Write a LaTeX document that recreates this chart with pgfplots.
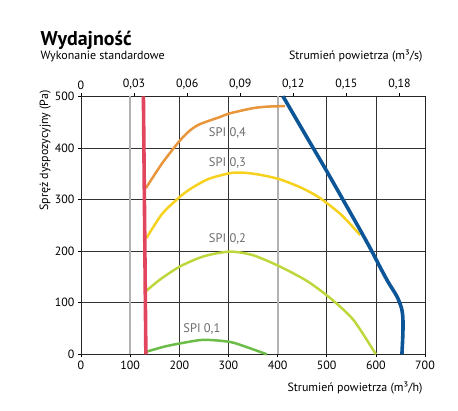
\documentclass[border=0pt]{standalone}
\usepackage{fontspec}
\setmainfont{PT Sans}
\usepackage{pgfplots}
\pgfplotsset{compat=1.18}

\definecolor{spired}{HTML}{E2455E}
\definecolor{spiblue}{HTML}{0C5596}
\definecolor{spiorange}{HTML}{E8953B}
\definecolor{spiyellow}{HTML}{F6D21F}
\definecolor{spilime}{HTML}{BFD63D}
\definecolor{spigreen}{HTML}{6CBD47}
\definecolor{labgray}{HTML}{6A6B6E}

\begin{document}
\begin{tikzpicture}
\path[use as bounding box] (0,0) rectangle (458bp,411bp);
\pgfplotsset{
    base/.style={
        at={(81bp,56.7bp)}, anchor=south west,
        scale only axis, width=344bp, height=258bp,
        clip=false,
        tick align=outside, major tick length=3bp,
        tick style={black, line width=0.6bp},
        axis line style={black!85, line width=0.6bp},
        ticklabel style={font=\fontsize{12}{14}\selectfont},
        /pgf/number format/assume math mode=true,
        /pgf/number format/use comma,
    }
}
% secondary axis in m3/s
\begin{axis}[base,
    xmin=0, xmax=0.194444, ymin=0, ymax=500,
    axis x line*=top, axis y line=none,
    xtick={0,0.03,0.06,0.09,0.12,0.15,0.18},
    xticklabel style={/pgf/number format/fixed, /pgf/number format/precision=2},
]
\end{axis}
\begin{axis}[base,
    xmin=0, xmax=700, ymin=0, ymax=500,
    xtick={0,100,...,700}, ytick={0,100,...,500},
    xtick pos=bottom, ytick pos=left,
    grid=major, grid style={black!80, line width=0.6bp},
    every axis plot/.append style={tension=0.45},
]
\addplot[black!30, line width=2bp] coordinates {(100,0) (100,500)};
\addplot[black!30, line width=2bp] coordinates {(400,0) (400,500)};

% SPI 0,1
\addplot[spigreen, line width=2.5bp, smooth] coordinates {
    (133,5) (170,15) (201,21) (249,28) (303,24) (340,13) (378,0)};
% SPI 0,2
\addplot[spilime, line width=2.5bp, smooth] coordinates {
    (133,123) (161,145) (201,170) (250,190) (303,199) (350,192) (405,170)
    (460,142) (507,109) (554,67) (600,0)};
% SPI 0,3
\addplot[spiyellow, line width=2.5bp, smooth] coordinates {
    (133,225) (165,272) (201,305) (225,322) (260,340) (303,351) (330,352)
    (364,348) (405,339) (450,322) (486,303) (530,270) (568,231)};
% SPI 0,4
\addplot[spiorange, line width=2.5bp, smooth] coordinates {
    (132,322) (165,370) (201,414) (222,434) (242,446) (283,460) (303,467)
    (350,477) (380,480) (415,481)};

% limits
\addplot[spired, line width=3.6bp] coordinates {(132,0) (127,500)};
\addplot[spiblue, line width=3.6bp, smooth] coordinates {
    (411,500) (460,420) (500,355) (540,288) (568,241) (590,203) (608,170)
    (625,140) (643,112) (652,90) (655,70) (655,40) (653,0)};

\node[labgray, font=\fontsize{12.5}{14}\selectfont] at (axis cs:298,429) {SPI 0,4};
\node[labgray, font=\fontsize{12.5}{14}\selectfont] at (axis cs:298,371) {SPI 0,3};
\node[labgray, font=\fontsize{12.5}{14}\selectfont] at (axis cs:298,223) {SPI 0,2};
\node[labgray, font=\fontsize{12.5}{14}\selectfont] at (axis cs:246,49) {SPI 0,1};
\end{axis}

\node[anchor=base west, font=\bfseries\fontsize{20}{23}\selectfont] at (37bp,365bp) {Wydajność};
\node[anchor=base west, font=\fontsize{12}{14}\selectfont] at (37bp,351.5bp) {Wykonanie standardowe};
\node[anchor=base east, font=\fontsize{12}{14}\selectfont] at (426bp,351bp) {Strumień powietrza (m³/s)};
\node[anchor=base east, font=\fontsize{12}{14}\selectfont] at (426bp,19.3bp) {Strumień powietrza (m³/h)};
\node[anchor=base east, rotate=90, font=\fontsize{12}{14}\selectfont] at (48bp,324bp) {Spręż dyspozycyjny (Pa)};
\end{tikzpicture}
\end{document}
